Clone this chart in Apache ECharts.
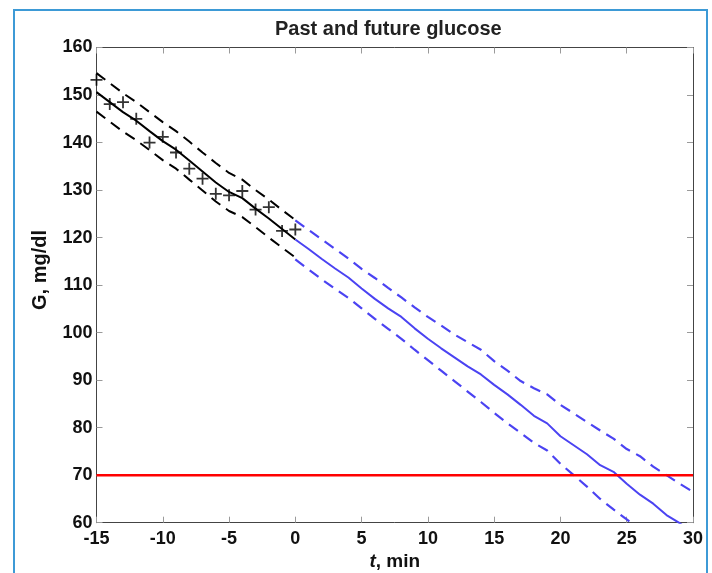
<!DOCTYPE html>
<html>
<head>
<meta charset="utf-8">
<script src="https://cdn.jsdelivr.net/npm/echarts@6/dist/echarts.min.js"></script>
<style>
html,body{margin:0;padding:0;background:#fff;}
#chart{width:712px;height:573px;}
</style>
</head>
<body>
<div id="chart"></div>
<script>
// ---- data ----
var pastT = [-15,-14,-13,-12,-11,-10,-9,-8,-7,-6,-5,-4,-3,-2,-1,0];
var measured = [153.2,148.1,148.5,145.0,140.0,141.2,137.9,134.5,132.4,129.2,128.9,129.8,125.9,126.4,121.4,121.7];
var fitPast = [150.6,148.5,146.4,144.6,142.4,140.3,138.5,136.2,133.9,131.6,129.6,128.3,126.1,124.0,121.8,119.6];
var upperPast = [154.6,152.5,150.4,148.5,146.4,144.3,142.4,140.2,137.9,135.7,133.6,132.2,130.0,128.0,125.8,123.7];
var lowerPast = [146.5,144.4,142.3,140.5,138.4,136.3,134.5,132.2,129.9,127.6,125.6,124.3,122.2,120.0,117.9,115.8];

var futureT = [0,1,2,3,4,5,6,7,8,9,10,11,12,13,14,15,16,17,18,19,20,21,22,23,24,25,26,27,28,29,30];
var fitFuture = [119.6,117.6,115.5,113.5,111.6,109.3,107.1,105.1,103.3,100.9,98.7,96.7,94.8,92.9,91.2,89.0,87.0,84.8,82.5,80.9,78.2,76.3,74.4,72.1,70.7,68.2,65.9,64.0,61.6,59.9,57.8];
var upperFuture = [123.6,121.6,119.6,117.6,115.6,113.4,111.5,109.4,107.4,105.3,103.3,101.5,99.6,98.0,96.4,94.0,92.0,89.8,88.3,87.0,84.8,83.0,81.2,79.4,77.7,75.5,74.0,71.8,70.0,68.2,66.5];
var lowerFuture = [115.4,113.3,111.2,109.2,107.3,105.1,102.9,100.8,98.7,96.4,94.2,92.0,89.8,87.6,85.4,83.1,80.9,78.9,76.8,75.2,72.4,70.0,67.6,65.0,62.8,60.7,58.5,56.5,54.5,52.5,50.5];

var thresholdT = [-15,30];
var thresholdG = [70,70];

var xTicks = {min:-15, max:30, interval:5};
var yTicks = {min:60, max:160, interval:10};

var titleText = 'Past and future glucose';
var yName = 'G, mg/dl';

function zip(a,b){ return a.map(function(v,i){ return [v,b[i]]; }); }

var FONT = '"Liberation Sans", Arial, Helvetica, sans-serif';
var BLUE = '#4b43f2';
var plusPath = 'path://M4.25,0h1.5v4.25h4.25v1.5h-4.25v4.25h-1.5v-4.25h-4.25v-1.5h4.25z';

var chart = echarts.init(document.getElementById('chart'), null, {renderer:'canvas'});

var tickStyle = {show:true, inside:true, length:6, lineStyle:{color:'#9a9a9a', width:1}};
var axisLineStyle = {show:true, onZero:false, lineStyle:{color:'#444', width:1}};
var DASH = [11,7];

var option = {
  animation:false,
  backgroundColor:'#fff',
  title:{
    text:titleText,
    left:270, top:14,
    textStyle:{fontFamily:FONT, fontWeight:'bold', fontSize:20, color:'#222'}
  },
  grid:{left:96.5, right:19, top:47.5, bottom:50.3, containLabel:false, outerBoundsMode:'none'},
  xAxis:[{
    type:'value', position:'bottom',
    min:xTicks.min, max:xTicks.max, interval:xTicks.interval,
    axisLine:axisLineStyle, axisTick:tickStyle, splitLine:{show:false},
    axisLabel:{margin:7, fontFamily:FONT, fontWeight:'bold', fontSize:18, color:'#111'},
    name:'{i|t}, min', nameLocation:'middle', nameGap:22,
    nameTextStyle:{fontFamily:FONT, fontWeight:'bold', fontSize:19, color:'#111',
      rich:{i:{fontFamily:FONT, fontWeight:'bold', fontStyle:'italic', fontSize:19, color:'#111'}}}
  },{
    type:'value', position:'top',
    min:xTicks.min, max:xTicks.max, interval:xTicks.interval,
    axisLine:axisLineStyle, axisTick:tickStyle, splitLine:{show:false},
    axisLabel:{show:false}
  }],
  yAxis:[{
    type:'value', position:'left',
    min:yTicks.min, max:yTicks.max, interval:yTicks.interval,
    axisLine:axisLineStyle, axisTick:tickStyle, splitLine:{show:false},
    axisLabel:{margin:4, fontFamily:FONT, fontWeight:'bold', fontSize:18, color:'#111'}
  },{
    type:'value', position:'right',
    min:yTicks.min, max:yTicks.max, interval:yTicks.interval,
    axisLine:axisLineStyle, axisTick:tickStyle, splitLine:{show:false},
    axisLabel:{show:false}
  }],
  series:[
    {type:'line', name:'fit past', data:zip(pastT,fitPast), showSymbol:false, symbol:'none',
      lineStyle:{color:'#000', width:2}, z:3},
    {type:'line', name:'upper past', data:zip(pastT,upperPast), showSymbol:false, symbol:'none',
      lineStyle:{color:'#000', width:2, type:DASH}, z:3},
    {type:'line', name:'lower past', data:zip(pastT,lowerPast), showSymbol:false, symbol:'none',
      lineStyle:{color:'#000', width:2, type:DASH}, z:3},
    {type:'line', name:'fit future', data:zip(futureT,fitFuture), showSymbol:false, symbol:'none',
      lineStyle:{color:BLUE, width:2}, z:3},
    {type:'line', name:'upper future', data:zip(futureT,upperFuture), showSymbol:false, symbol:'none',
      lineStyle:{color:BLUE, width:2.2, type:DASH}, z:3},
    {type:'line', name:'lower future', data:zip(futureT,lowerFuture), showSymbol:false, symbol:'none',
      lineStyle:{color:BLUE, width:2.2, type:DASH}, z:3},
    {type:'line', name:'threshold', data:zip(thresholdT,thresholdG), showSymbol:false, symbol:'none',
      lineStyle:{color:'#ff0000', width:2.5}, z:4},
    {type:'scatter', name:'measured', data:zip(pastT,measured), symbol:plusPath, symbolSize:12,
      itemStyle:{color:'#000'}, z:5}
  ],
  graphic:[{
    type:'rect', silent:true, z:100,
    shape:{x:14, y:10, width:693, height:600},
    style:{fill:'none', stroke:'#3d9ad6', lineWidth:2}
  },{
    type:'text', silent:true, z:100,
    x:40, y:270, rotation:Math.PI/2,
    style:{text:yName, fontFamily:FONT, fontWeight:'bold', fontSize:20, fill:'#111',
      align:'center', verticalAlign:'middle'}
  }]
};
chart.setOption(option);
</script>
</body>
</html>
